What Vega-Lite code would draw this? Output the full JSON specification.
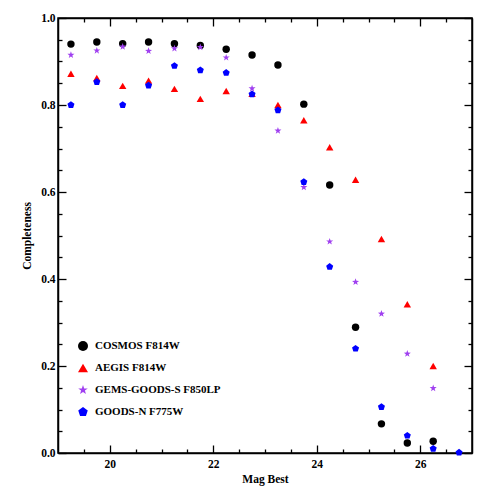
{
  "$schema": "https://vega.github.io/schema/vega-lite/v6.json",
  "autosize": "none",
  "width": 414,
  "height": 435,
  "padding": {"left": 58, "top": 18, "right": 18, "bottom": 37},
  "background": "white",
  "config": {
    "view": {"stroke": "black", "strokeWidth": 1.5},
    "axis": {"grid": false, "domainColor": "black", "domainWidth": 1.5, "tickColor": "black", "tickWidth": 1.3,
      "labelFont": "Liberation Serif", "labelFontWeight": "bold", "labelFontSize": 11.5, "labelColor": "black",
      "titleFont": "Liberation Serif", "titleFontWeight": "bold", "titleFontSize": 11.5, "titleColor": "black"}
  },
  "data": {"values": [
    {"mag": 19.25, "c": 0.940, "s": "COSMOS F814W"},
    {"mag": 19.75, "c": 0.945, "s": "COSMOS F814W"},
    {"mag": 20.25, "c": 0.941, "s": "COSMOS F814W"},
    {"mag": 20.75, "c": 0.945, "s": "COSMOS F814W"},
    {"mag": 21.25, "c": 0.941, "s": "COSMOS F814W"},
    {"mag": 21.75, "c": 0.937, "s": "COSMOS F814W"},
    {"mag": 22.25, "c": 0.928, "s": "COSMOS F814W"},
    {"mag": 22.75, "c": 0.915, "s": "COSMOS F814W"},
    {"mag": 23.25, "c": 0.892, "s": "COSMOS F814W"},
    {"mag": 23.75, "c": 0.802, "s": "COSMOS F814W"},
    {"mag": 24.25, "c": 0.616, "s": "COSMOS F814W"},
    {"mag": 24.75, "c": 0.289, "s": "COSMOS F814W"},
    {"mag": 25.25, "c": 0.067, "s": "COSMOS F814W"},
    {"mag": 25.75, "c": 0.023, "s": "COSMOS F814W"},
    {"mag": 26.25, "c": 0.027, "s": "COSMOS F814W"},
    {"mag": 19.25, "c": 0.872, "s": "AEGIS F814W"},
    {"mag": 19.75, "c": 0.862, "s": "AEGIS F814W"},
    {"mag": 20.25, "c": 0.844, "s": "AEGIS F814W"},
    {"mag": 20.75, "c": 0.856, "s": "AEGIS F814W"},
    {"mag": 21.25, "c": 0.837, "s": "AEGIS F814W"},
    {"mag": 21.75, "c": 0.814, "s": "AEGIS F814W"},
    {"mag": 22.25, "c": 0.832, "s": "AEGIS F814W"},
    {"mag": 22.75, "c": 0.826, "s": "AEGIS F814W"},
    {"mag": 23.25, "c": 0.800, "s": "AEGIS F814W"},
    {"mag": 23.75, "c": 0.765, "s": "AEGIS F814W"},
    {"mag": 24.25, "c": 0.703, "s": "AEGIS F814W"},
    {"mag": 24.75, "c": 0.628, "s": "AEGIS F814W"},
    {"mag": 25.25, "c": 0.492, "s": "AEGIS F814W"},
    {"mag": 25.75, "c": 0.342, "s": "AEGIS F814W"},
    {"mag": 26.25, "c": 0.200, "s": "AEGIS F814W"},
    {"mag": 19.25, "c": 0.915, "s": "GEMS-GOODS-S F850LP"},
    {"mag": 19.75, "c": 0.925, "s": "GEMS-GOODS-S F850LP"},
    {"mag": 20.25, "c": 0.934, "s": "GEMS-GOODS-S F850LP"},
    {"mag": 20.75, "c": 0.924, "s": "GEMS-GOODS-S F850LP"},
    {"mag": 21.25, "c": 0.930, "s": "GEMS-GOODS-S F850LP"},
    {"mag": 21.75, "c": 0.933, "s": "GEMS-GOODS-S F850LP"},
    {"mag": 22.25, "c": 0.909, "s": "GEMS-GOODS-S F850LP"},
    {"mag": 22.75, "c": 0.838, "s": "GEMS-GOODS-S F850LP"},
    {"mag": 23.25, "c": 0.741, "s": "GEMS-GOODS-S F850LP"},
    {"mag": 23.75, "c": 0.611, "s": "GEMS-GOODS-S F850LP"},
    {"mag": 24.25, "c": 0.486, "s": "GEMS-GOODS-S F850LP"},
    {"mag": 24.75, "c": 0.393, "s": "GEMS-GOODS-S F850LP"},
    {"mag": 25.25, "c": 0.320, "s": "GEMS-GOODS-S F850LP"},
    {"mag": 25.75, "c": 0.228, "s": "GEMS-GOODS-S F850LP"},
    {"mag": 26.25, "c": 0.149, "s": "GEMS-GOODS-S F850LP"},
    {"mag": 19.25, "c": 0.800, "s": "GOODS-N F775W"},
    {"mag": 19.75, "c": 0.853, "s": "GOODS-N F775W"},
    {"mag": 20.25, "c": 0.800, "s": "GOODS-N F775W"},
    {"mag": 20.75, "c": 0.845, "s": "GOODS-N F775W"},
    {"mag": 21.25, "c": 0.890, "s": "GOODS-N F775W"},
    {"mag": 21.75, "c": 0.880, "s": "GOODS-N F775W"},
    {"mag": 22.25, "c": 0.874, "s": "GOODS-N F775W"},
    {"mag": 22.75, "c": 0.825, "s": "GOODS-N F775W"},
    {"mag": 23.25, "c": 0.788, "s": "GOODS-N F775W"},
    {"mag": 23.75, "c": 0.623, "s": "GOODS-N F775W"},
    {"mag": 24.25, "c": 0.428, "s": "GOODS-N F775W"},
    {"mag": 24.75, "c": 0.240, "s": "GOODS-N F775W"},
    {"mag": 25.25, "c": 0.106, "s": "GOODS-N F775W"},
    {"mag": 25.75, "c": 0.040, "s": "GOODS-N F775W"},
    {"mag": 26.25, "c": 0.010, "s": "GOODS-N F775W"},
    {"mag": 26.75, "c": 0.001, "s": "GOODS-N F775W"}
  ]},
  "resolve": {"axis": {"x": "independent", "y": "independent"}},
  "layer": [
    {
      "mark": {"type": "point", "filled": true, "opacity": 1, "size": 55},
      "encoding": {
        "x": {"field": "mag", "type": "quantitative", "title": "Mag Best",
          "scale": {"domain": [19, 27], "nice": false, "zero": false},
          "axis": {"orient": "bottom", "values": [20,22,24,26], "format": "d", "tickSize": -8,
            "labelPadding": 13, "titlePadding": 4}},
        "y": {"field": "c", "type": "quantitative", "title": "Completeness",
          "scale": {"domain": [0, 1], "nice": false},
          "axis": {"orient": "left", "values": [0,0.2,0.4,0.6,0.8,1.0], "format": ".1f", "tickSize": -8,
            "labelPadding": 11, "titlePadding": 8}},
        "color": {"field": "s", "type": "nominal",
          "scale": {"domain": ["COSMOS F814W", "AEGIS F814W", "GEMS-GOODS-S F850LP", "GOODS-N F775W"],
            "range": ["#000000", "#ff0000", "#a040f0", "#0000ff"]},
          "legend": {"orient": "none", "legendX": 19, "legendY": 322, "title": null,
            "labelFont": "Liberation Serif", "labelFontWeight": "bold", "labelFontSize": 11, "labelColor": "black",
            "symbolSize": 100, "rowPadding": 11, "labelOffset": 6, "symbolOpacity": 1}},
        "shape": {"field": "s", "type": "nominal",
          "scale": {"domain": ["COSMOS F814W", "AEGIS F814W", "GEMS-GOODS-S F850LP", "GOODS-N F775W"],
            "range": ["circle", "triangle-up",
              "M0,-1L0.235,-0.324L0.951,-0.309L0.380,0.124L0.588,0.809L0,0.4L-0.588,0.809L-0.380,0.124L-0.951,-0.309L-0.235,-0.324Z",
              "M0,-1L0.951,-0.309L0.588,0.809L-0.588,0.809L-0.951,-0.309Z"]},
          "legend": null}
      }
    },
    {
      "mark": {"type": "point", "opacity": 0},
      "encoding": {
        "x": {"field": "mag", "type": "quantitative",
          "axis": {"orient": "bottom", "title": null, "labels": false, "domain": false, "values": [19.5,20.5,21,21.5,22.5,23,23.5,24.5,25,25.5,26.5], "tickSize": -4}},
        "y": {"field": "c", "type": "quantitative",
          "axis": {"orient": "left", "title": null, "labels": false, "domain": false, "values": [0.05,0.1,0.15,0.25,0.3,0.35,0.45,0.5,0.55,0.65,0.7,0.75,0.85,0.9,0.95], "tickSize": -4}}
      }
    },
    {
      "mark": {"type": "point", "opacity": 0},
      "encoding": {
        "x": {"field": "mag", "type": "quantitative",
          "axis": {"orient": "top", "title": null, "labels": false, "values": [20,22,24,26], "tickSize": -8}},
        "y": {"field": "c", "type": "quantitative",
          "axis": {"orient": "right", "title": null, "labels": false, "values": [0,0.2,0.4,0.6,0.8,1.0], "tickSize": -8}}
      }
    },
    {
      "mark": {"type": "point", "opacity": 0},
      "encoding": {
        "x": {"field": "mag", "type": "quantitative",
          "axis": {"orient": "top", "title": null, "labels": false, "domain": false, "values": [19.5,20.5,21,21.5,22.5,23,23.5,24.5,25,25.5,26.5], "tickSize": -4}},
        "y": {"field": "c", "type": "quantitative",
          "axis": {"orient": "right", "title": null, "labels": false, "domain": false, "values": [0.05,0.1,0.15,0.25,0.3,0.35,0.45,0.5,0.55,0.65,0.7,0.75,0.85,0.9,0.95], "tickSize": -4}}
      }
    }
  ]
}
